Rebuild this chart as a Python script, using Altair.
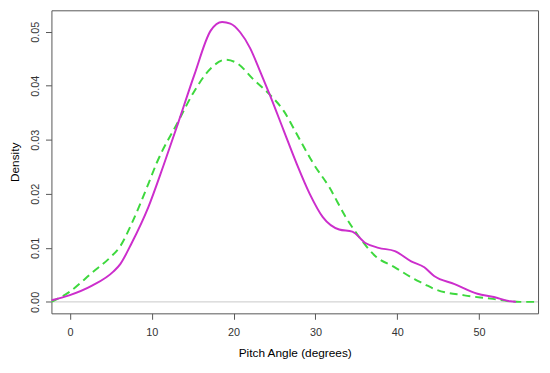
import altair as alt
import pandas as pd

# Solid magenta density curve
mag_x = [-2.26, -0.1, 2.7, 5.3, 6.15, 7.55, 9.57, 11.4, 13.2, 15.2, 17.2, 18.6, 19.6,
         20.8, 22.0, 23.2, 24.4, 26.1, 27.7, 29.3, 30.9, 32.9, 34.5, 36.1, 37.7, 39.7,
         41.7, 43.3, 44.5, 47.0, 49.8, 51.8, 53.8, 54.5]
mag_y = [0.0003, 0.0012, 0.0030, 0.0056, 0.0070, 0.0109, 0.0175, 0.0251, 0.0330, 0.0420,
         0.0502, 0.0518, 0.0515, 0.0499, 0.0470, 0.0428, 0.0384, 0.0318, 0.0256, 0.0200,
         0.0157, 0.0134, 0.0130, 0.0109, 0.0100, 0.0094, 0.0075, 0.0064, 0.0048, 0.0033,
         0.0015, 0.0009, 0.0001, 0.0]

# Dashed green density curve
grn_x = [-2.26, -0.1, 2.7, 4.9, 6.15, 7.55, 9.57, 10.6, 13.2, 15.2, 17.2, 19.0, 20.4,
         22.4, 24.4, 26.1, 27.7, 28.9, 29.7, 31.7, 33.7, 35.3, 37.3, 39.7, 42.1, 43.3,
         44.5, 48.2, 51.4, 53.8, 55.0, 57.2]
grn_y = [0.0, 0.0018, 0.0054, 0.0082, 0.0103, 0.0145, 0.0218, 0.0257, 0.0333, 0.0390,
         0.0432, 0.0448, 0.0442, 0.0412, 0.0384, 0.0354, 0.0311, 0.0278, 0.0257, 0.0212,
         0.0157, 0.0121, 0.0085, 0.0064, 0.0042, 0.0033, 0.0024, 0.0012, 0.0006, 0.0001,
         0.0, 0.0]

x_ticks = [0, 10, 20, 30, 40, 50]
y_ticks = [0.00, 0.01, 0.02, 0.03, 0.04, 0.05]

mag = pd.DataFrame({"x": mag_x, "y": mag_y})
grn = pd.DataFrame({"x": grn_x, "y": grn_y})
zero = pd.DataFrame({"y": [0.0]})

xs = alt.Scale(domain=[-2.26, 57.2], nice=False, zero=False)
ys = alt.Scale(domain=[-0.00212, 0.05396], nice=False, zero=False)

xaxis = alt.Axis(values=x_ticks, title="Pitch Angle (degrees)", grid=False, domain=False,
                 tickSize=6, tickColor="#555555", labelColor="#333333", labelFontSize=11,
                 labelPadding=7, titleFontSize=12, titleFontWeight="normal",
                 titleColor="#000000", titlePadding=11, labelFont="Liberation Sans",
                 titleFont="Liberation Sans", format="d")
yaxis = alt.Axis(values=y_ticks, title="Density", grid=False, domain=False, format=".2f",
                 tickSize=6, tickColor="#555555", labelColor="#333333", labelFontSize=11,
                 labelAngle=270, labelAlign="center", labelBaseline="bottom",
                 labelPadding=5, titleFontSize=12, titleFontWeight="normal",
                 titleColor="#000000", titlePadding=8, labelFont="Liberation Sans",
                 titleFont="Liberation Sans")

rule = alt.Chart(zero).mark_rule(color="#C8C8C8", strokeWidth=1).encode(
    y=alt.Y("y:Q", scale=ys, axis=yaxis)
)

green_line = alt.Chart(grn).mark_line(
    color="#3ED83E", strokeWidth=2, strokeDash=[8, 5], interpolate="monotone", clip=True
).encode(
    x=alt.X("x:Q", scale=xs, axis=xaxis),
    y=alt.Y("y:Q", scale=ys, axis=yaxis),
)

mag_line = alt.Chart(mag).mark_line(
    color="#CC2ECC", strokeWidth=2, interpolate="monotone", clip=True
).encode(
    x=alt.X("x:Q", scale=xs, axis=xaxis),
    y=alt.Y("y:Q", scale=ys, axis=yaxis),
)

chart = alt.layer(rule, green_line, mag_line).properties(
    width=493, height=307,
    background="white",
    autosize=alt.AutoSizeParams(type="none"),
    padding={"left": 44, "top": 0, "right": 4, "bottom": 50},
).configure_view(stroke="#555555", strokeWidth=1)

chart.save("out.html", embed_options={"renderer": "svg", "actions": False})
